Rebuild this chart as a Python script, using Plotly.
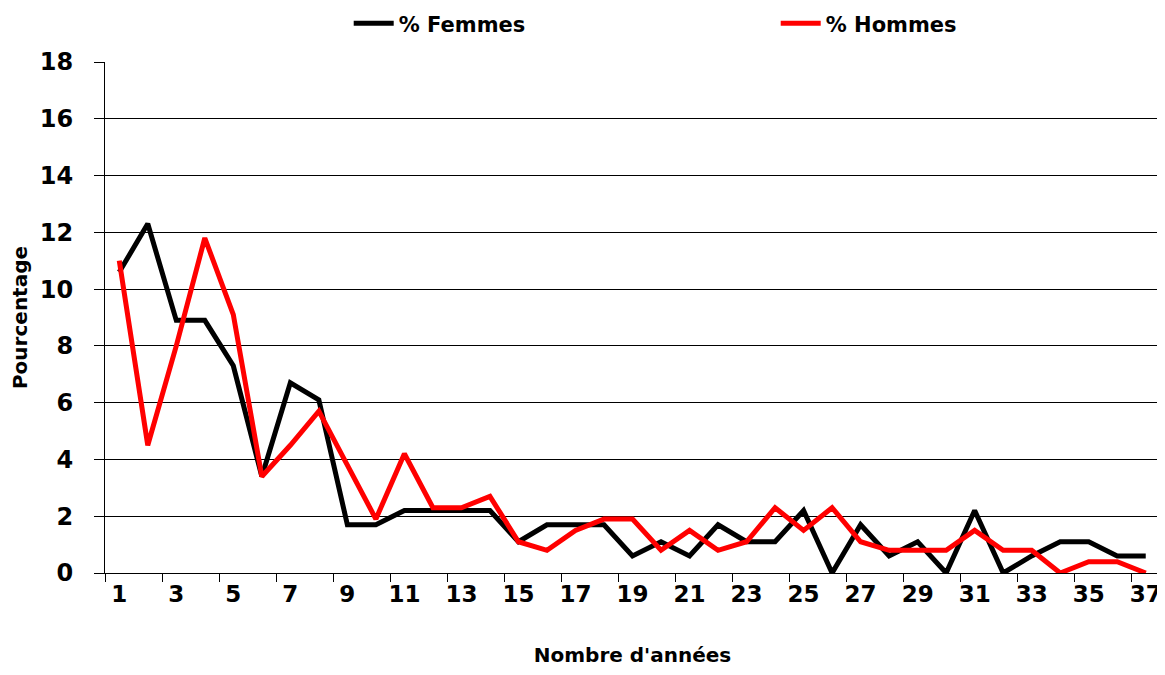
import plotly.graph_objects as go

annees = list(range(1, 38))
femmes = [10.6, 12.3, 8.9, 8.9, 7.3, 3.4, 6.7, 6.1, 1.7, 1.7,
          2.2, 2.2, 2.2, 2.2, 1.1, 1.7, 1.7, 1.7, 0.6, 1.1,
          0.6, 1.7, 1.1, 1.1, 2.2, 0.0, 1.7, 0.6, 1.1, 0.0,
          2.2, 0.0, 0.6, 1.1, 1.1, 0.6, 0.6]
hommes = [11.0, 4.5, 8.0, 11.8, 9.1, 3.4, 4.5, 5.7, 3.8, 1.9,
          4.2, 2.3, 2.3, 2.7, 1.1, 0.8, 1.5, 1.9, 1.9, 0.8,
          1.5, 0.8, 1.1, 2.3, 1.5, 2.3, 1.1, 0.8, 0.8, 0.8,
          1.5, 0.8, 0.8, 0.0, 0.4, 0.4, 0.0]
x_labels = [str(v) for v in range(1, 38, 2)]
y_ticks = list(range(0, 19, 2))

FONT = "DejaVu Sans"

fig = go.Figure()
fig.add_trace(go.Scatter(x=annees, y=femmes, mode="lines", name="% Femmes",
                         line=dict(color="black", width=5)))
fig.add_trace(go.Scatter(x=annees, y=hommes, mode="lines", name="% Hommes",
                         line=dict(color="#ff0000", width=5)))

fig.update_layout(
    width=1157, height=659,
    margin=dict(l=97, r=5, t=54, b=94, autoexpand=False),
    plot_bgcolor="white", paper_bgcolor="white",
    font=dict(family=FONT, color="black", size=22, weight="bold"),
    showlegend=True,
    legend=dict(orientation="h", x=0.231, xanchor="left", y=1.075, yanchor="middle",
                font=dict(size=21, family=FONT, weight="bold"),
                itemwidth=40, entrywidth=372, entrywidthmode="pixels",
                bgcolor="rgba(0,0,0,0)"),
    xaxis=dict(
        range=[0.5, 37.5], tickmode="array",
        tickvals=list(range(1, 38, 2)), ticktext=x_labels,
        ticks="", showgrid=False, zeroline=False, automargin=False,
        showline=True, linecolor="black", linewidth=1,
        tickfont=dict(size=23, family=FONT, weight="bold"),
        title=dict(text="Nombre d'années", font=dict(size=20, family=FONT, weight="bold"),
                   standoff=62),
        minor=dict(tickmode="array", tickvals=[v + 0.5 for v in range(0, 38, 2)],
                   ticks="outside", ticklen=8, tickcolor="black", showgrid=False),
    ),
    yaxis=dict(
        range=[0, 18], tickmode="array", tickvals=y_ticks,
        ticks="outside", ticklen=10, tickcolor="black", ticklabelstandoff=16,
        showgrid=True, gridcolor="black", gridwidth=1, automargin=False,
        zeroline=False, showline=True, linecolor="black", linewidth=1,
        tickfont=dict(size=24, family=FONT, weight="bold"),
        title=dict(text="Pourcentage", font=dict(size=20, family=FONT, weight="bold"),
                   standoff=40),
    ),
)

fig.write_html("out.html")
